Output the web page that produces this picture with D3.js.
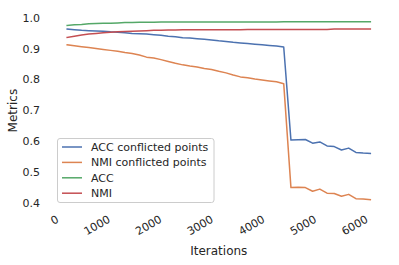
<!DOCTYPE html>
<html><head><meta charset="utf-8">
<script src="https://cdn.jsdelivr.net/npm/d3@7"></script>
<style>
html,body{margin:0;padding:0;background:#fff;}
text{font-family:"DejaVu Sans",sans-serif;fill:#262626;}
</style></head>
<body><svg id="c" width="399" height="265"></svg>
<script>
const iterations = [140,280,420,560,700,840,980,1120,1260,1400,1540,1680,1820,1960,2100,2240,2380,2520,2660,2800,2940,3080,3220,3360,3500,3640,3780,3920,4060,4200,4340,4480,4620,4760,4900,5040,5180,5320,5460,5600,5740,5880,6020];
const accConflicted = [0.963,0.961,0.959,0.958,0.957,0.956,0.954,0.953,0.951,0.949,0.948,0.947,0.945,0.943,0.940,0.938,0.935,0.934,0.932,0.930,0.928,0.925,0.923,0.920,0.918,0.916,0.914,0.912,0.910,0.908,0.905,0.603,0.604,0.605,0.593,0.597,0.584,0.582,0.571,0.577,0.563,0.561,0.560];
const nmiConflicted = [0.912,0.909,0.906,0.903,0.900,0.897,0.894,0.891,0.887,0.884,0.879,0.872,0.869,0.864,0.858,0.852,0.847,0.843,0.840,0.835,0.832,0.826,0.821,0.814,0.808,0.805,0.801,0.798,0.795,0.792,0.786,0.449,0.450,0.449,0.437,0.444,0.431,0.430,0.421,0.427,0.413,0.412,0.410];
const acc = [0.975,0.977,0.978,0.980,0.981,0.982,0.982,0.983,0.984,0.984,0.985,0.985,0.985,0.986,0.986,0.986,0.986,0.986,0.986,0.986,0.986,0.986,0.986,0.986,0.986,0.986,0.986,0.986,0.986,0.986,0.987,0.987,0.987,0.987,0.987,0.987,0.987,0.987,0.987,0.987,0.987,0.987,0.987];
const nmi = [0.936,0.940,0.944,0.947,0.949,0.951,0.953,0.954,0.955,0.956,0.957,0.958,0.959,0.959,0.960,0.960,0.961,0.961,0.961,0.961,0.961,0.961,0.961,0.961,0.961,0.962,0.962,0.962,0.962,0.962,0.962,0.962,0.962,0.962,0.962,0.962,0.962,0.963,0.963,0.963,0.963,0.963,0.963];
const seriesNames = ["ACC conflicted points","NMI conflicted points","ACC","NMI"];
const seriesColors = ["#4C72B0","#DD8452","#55A868","#C44E52"];
const xTicks = [0,1000,2000,3000,4000,5000,6000];
const yTicks = [0.4,0.5,0.6,0.7,0.8,0.9,1.0];

const seriesValues = [accConflicted, nmiConflicted, acc, nmi];
const svg = d3.select("#c");
const L = 52, R = 385.5, T = 12.8, B = 208.5;

const xMin = d3.min(iterations), xMax = d3.max(iterations);
const xPad = (xMax - xMin) * 0.05;
const allV = seriesValues.flat();
const yMin = d3.min(allV), yMax = d3.max(allV);
const yPad = (yMax - yMin) * 0.05;
const x = d3.scaleLinear().domain([xMin - xPad, xMax + xPad]).range([L, R]);
const y = d3.scaleLinear().domain([yMin - yPad, yMax + yPad]).range([B, T]);

// y ticks
const yAxis = d3.axisLeft(y).tickValues(yTicks).tickFormat(d3.format(".1f")).tickSize(0).tickPadding(12);
const gy = svg.append("g").attr("transform", `translate(${L},0)`).call(yAxis);
gy.select(".domain").remove();
gy.selectAll("text").attr("font-size", 11).attr("font-family", "DejaVu Sans").attr("fill", "#262626");

// x ticks rotated
const xAxis = d3.axisBottom(x).tickValues(xTicks).tickFormat(d3.format("d")).tickSize(0).tickPadding(0);
const gx = svg.append("g").attr("transform", `translate(0,${B})`).call(xAxis);
gx.select(".domain").remove();
gx.selectAll("text")
  .attr("font-size", 11).attr("font-family", "DejaVu Sans").attr("fill", "#262626")
  .attr("text-anchor", "end").attr("dy", null).attr("y", 0)
  .attr("dominant-baseline", "hanging")
  .attr("transform", "translate(-5,6) rotate(-30)");

// lines
const line = d3.line().x((d, i) => x(iterations[i])).y(d => y(d));
seriesValues.forEach((vals, si) => {
  svg.append("path").datum(vals).attr("d", line)
    .attr("fill", "none").attr("stroke", seriesColors[si]).attr("stroke-width", 1.5)
    .attr("stroke-linejoin", "round").attr("stroke-linecap", "square");
});

// axis labels
svg.append("text").attr("x", (L + R) / 2).attr("y", 255).attr("text-anchor", "middle")
  .attr("font-size", 12).text("Iterations");
svg.append("text").attr("transform", `translate(17,${(T + B) / 2}) rotate(-90)`).attr("text-anchor", "middle")
  .attr("font-size", 12).text("Metrics");

// legend
const lg = svg.append("g");
lg.append("rect").attr("x", 57.5).attr("y", 138.5).attr("width", 156.5).attr("height", 64)
  .attr("rx", 2.5).attr("fill", "#fff").attr("fill-opacity", 0.8).attr("stroke", "#cccccc").attr("stroke-width", 1);
seriesNames.forEach((n, i) => {
  const yy = 147 + i * 15.4;
  lg.append("line").attr("x1", 62).attr("x2", 82).attr("y1", yy).attr("y2", yy)
    .attr("stroke", seriesColors[i]).attr("stroke-width", 1.5);
  lg.append("text").attr("x", 91).attr("y", yy + 4).attr("font-size", 11).text(n);
});
</script></body></html>
